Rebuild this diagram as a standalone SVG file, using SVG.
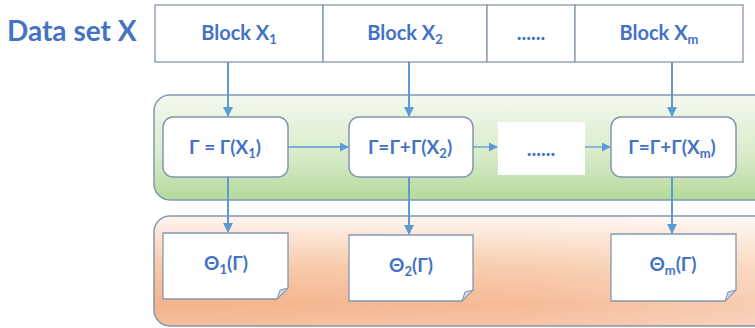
<svg xmlns="http://www.w3.org/2000/svg" width="755" height="328" viewBox="0 0 755 328">
  <defs>
    <linearGradient id="gGreen" x1="0" y1="0" x2="0" y2="1">
      <stop offset="0" stop-color="#F4F9F0"/>
      <stop offset="0.55" stop-color="#D9ECCB"/>
      <stop offset="1" stop-color="#B5D99B"/>
    </linearGradient>
    <linearGradient id="gOrange" x1="0" y1="0" x2="0" y2="1">
      <stop offset="0" stop-color="#FEF6F0"/>
      <stop offset="0.45" stop-color="#F8C9A8"/>
      <stop offset="0.8" stop-color="#F4B48C"/>
      <stop offset="1" stop-color="#F6BE9C"/>
    </linearGradient>
    <linearGradient id="gOrangeFade" x1="0" y1="0" x2="1" y2="0">
      <stop offset="0" stop-color="#FFFFFF" stop-opacity="0"/>
      <stop offset="0.6" stop-color="#FFFFFF" stop-opacity="0.1"/>
      <stop offset="1" stop-color="#FFFFFF" stop-opacity="0.35"/>
    </linearGradient>
    <marker id="arr" viewBox="0 0 10 10" refX="9" refY="5" markerWidth="5" markerHeight="5" orient="auto" markerUnits="strokeWidth">
      <path d="M0,0 L10,5 L0,10 z" fill="#5B9BD5"/>
    </marker>
    <marker id="arrS" viewBox="0 0 10 10" refX="9" refY="5" markerWidth="7" markerHeight="7" orient="auto" markerUnits="strokeWidth">
      <path d="M0,0 L10,5 L0,10 z" fill="#5B9BD5"/>
    </marker>
  </defs>
  <style>
    text { font-family: "Lato", "Open Sans", "Liberation Sans", sans-serif; font-weight: bold; fill: #4472C4; text-anchor: middle; }
    .title { font-size: 28px; text-anchor: start; }
    .lbl { font-size: 20px; }
    .lbl2 { font-size: 19px; }
    .sub { font-size: 13px; }
    .cell { fill: #FFFFFF; stroke: #8497B0; stroke-width: 1.3; }
    .proc { fill: #FFFFFF; stroke: #8497B0; stroke-width: 1.5; }
    .doc { fill: #FFFFFF; stroke: #8497B0; stroke-width: 1.3; }
    .fold { fill: #C9D6EA; stroke: #8497B0; stroke-width: 1; }
    .panel { stroke: #8497B0; stroke-width: 1.5; }
    .conn { stroke: #5B9BD5; stroke-width: 2; fill: none; }
    .connh { stroke: #5B9BD5; stroke-width: 1.3; fill: none; }
  </style>

  <!-- heading -->
  <text class="title" x="7" y="41">Data set X</text>

  <!-- data blocks row -->
  <g id="blocks">
    <g id="block1">
      <rect class="cell" x="155" y="5" width="168" height="57"/>
      <text class="lbl" x="239" y="40">Block X<tspan class="sub" dy="4">1</tspan></text>
    </g>
    <g id="block2">
      <rect class="cell" x="323" y="5" width="164" height="57"/>
      <text class="lbl" x="405" y="40">Block X<tspan class="sub" dy="4">2</tspan></text>
    </g>
    <g id="blockDots">
      <rect class="cell" x="487" y="5" width="88" height="57"/>
      <text class="lbl" x="531" y="40">......</text>
    </g>
    <g id="blockM">
      <rect class="cell" x="575" y="5" width="168" height="57"/>
      <text class="lbl" x="659" y="40">Block X<tspan class="sub" dy="4">m</tspan></text>
    </g>
  </g>

  <!-- accumulation stage panel -->
  <g id="panelAccum">
    <rect class="panel" x="154" y="95" width="620" height="105" rx="16" fill="url(#gGreen)"/>
  </g>

  <!-- estimation stage panel -->
  <g id="panelEstimate">
    <rect class="panel" x="154" y="216" width="620" height="110" rx="16" fill="url(#gOrange)"/>
    <rect x="155" y="217" width="618" height="108" rx="15" fill="url(#gOrangeFade)"/>
  </g>

  <!-- accumulation steps -->
  <g id="step1">
    <rect class="proc" x="163" y="117" width="125" height="60" rx="10"/>
    <text class="lbl2" x="225" y="154">Γ = Γ(X<tspan class="sub" dy="4">1</tspan><tspan dy="-4">)</tspan></text>
  </g>
  <g id="step2">
    <rect class="proc" x="349" y="117" width="124" height="60" rx="10"/>
    <text class="lbl2" x="410" y="154">Γ=Γ+Γ(X<tspan class="sub" dy="4">2</tspan><tspan dy="-4">)</tspan></text>
  </g>
  <g id="stepDots">
    <rect x="498" y="122" width="87" height="53" fill="#FFFFFF"/>
    <text class="lbl" x="541" y="156">......</text>
  </g>
  <g id="stepM">
    <rect class="proc" x="611" y="117" width="125" height="60" rx="10"/>
    <text class="lbl2" x="672" y="154">Γ=Γ+Γ(X<tspan class="sub" dy="4">m</tspan><tspan dy="-4">)</tspan></text>
  </g>

  <!-- estimates (document shapes with folded corner) -->
  <g id="est1">
    <path class="doc" d="M163,233 H288 V288 L277,299 H163 Z"/>
    <path class="fold" d="M288,288 L277,299 L280,290 Z"/>
    <text class="lbl2" x="226" y="270">Θ<tspan class="sub" dy="4">1</tspan><tspan dy="-4">(Γ)</tspan></text>
  </g>
  <g id="est2">
    <path class="doc" d="M349,235 H473 V290 L462,301 H349 Z"/>
    <path class="fold" d="M473,290 L462,301 L465,292 Z"/>
    <text class="lbl2" x="411" y="272">Θ<tspan class="sub" dy="4">2</tspan><tspan dy="-4">(Γ)</tspan></text>
  </g>
  <g id="estM">
    <path class="doc" d="M611,234 H736 V290 L725,301 H611 Z"/>
    <path class="fold" d="M736,290 L725,301 L728,292 Z"/>
    <text class="lbl2" x="673" y="271">Θ<tspan class="sub" dy="4">m</tspan><tspan dy="-4">(Γ)</tspan></text>
  </g>

  <!-- connectors -->
  <g id="connectors">
    <line class="conn" x1="228" y1="62" x2="228" y2="116" marker-end="url(#arr)"/>
    <line class="conn" x1="409" y1="62" x2="409" y2="116" marker-end="url(#arr)"/>
    <line class="conn" x1="672" y1="62" x2="672" y2="116" marker-end="url(#arr)"/>
    <line class="connh" x1="288" y1="147" x2="348" y2="147" marker-end="url(#arrS)"/>
    <line class="connh" x1="473" y1="147" x2="497" y2="147" marker-end="url(#arrS)"/>
    <line class="connh" x1="585" y1="147" x2="610" y2="147" marker-end="url(#arrS)"/>
    <line class="conn" x1="228" y1="177" x2="228" y2="232" marker-end="url(#arr)"/>
    <line class="conn" x1="409" y1="177" x2="409" y2="234" marker-end="url(#arr)"/>
    <line class="conn" x1="672" y1="177" x2="672" y2="233" marker-end="url(#arr)"/>
  </g>
</svg>
